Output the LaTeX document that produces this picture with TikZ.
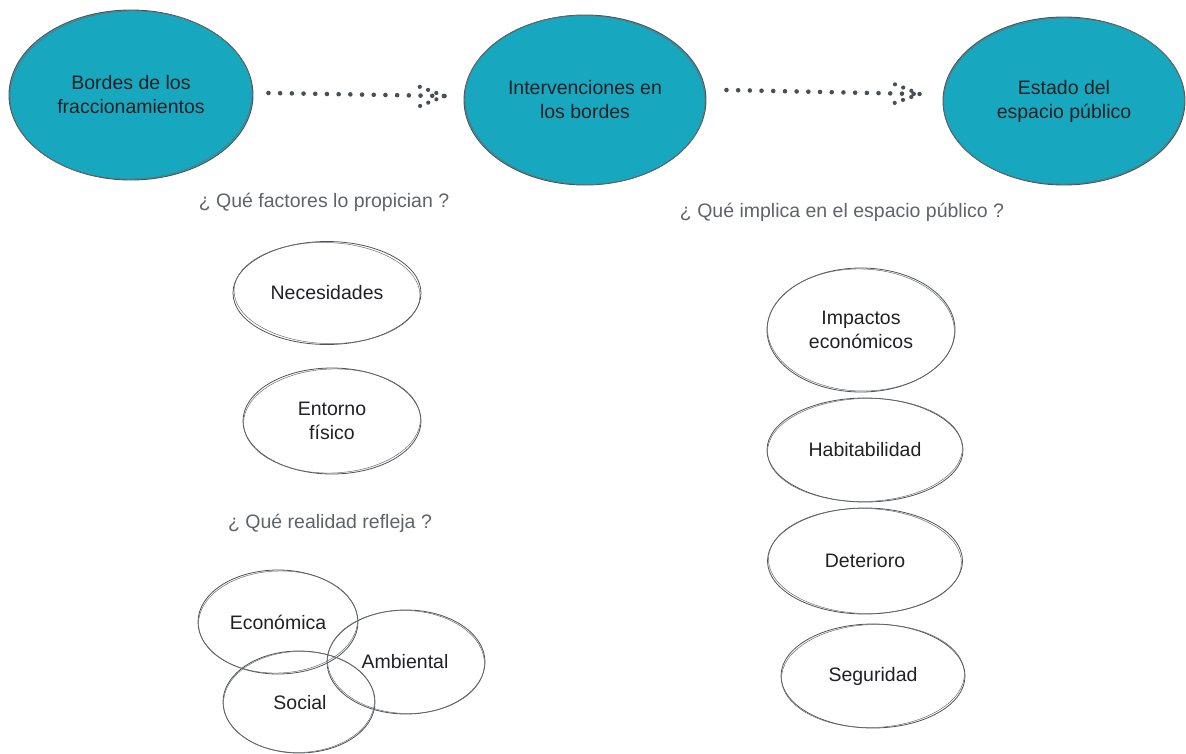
\documentclass[tikz,border=0pt]{standalone}
\usepackage{fontspec}
\setmainfont{Liberation Sans}
\usetikzlibrary{shapes.geometric,calc}
\definecolor{tealfill}{HTML}{17A7BF}
\definecolor{edgec}{HTML}{4F5357}
\definecolor{qgray}{HTML}{5F6368}
\definecolor{ink}{HTML}{202124}
\definecolor{dotc}{HTML}{4A4F55}
\newcommand\skell[4]{\draw[sketchline, rotate around={#4:(#1.center)}] (#1.center) ellipse [x radius=#2, y radius=#3];}
\begin{document}
\begin{tikzpicture}[x=1pt,y=-1pt,
  every node/.style={font=\fontsize{19.5}{24}\selectfont},
  bigell/.style={ellipse, draw=edgec, line width=0.9pt, fill=tealfill, inner sep=0pt, align=center, text=ink},
  smallell/.style={ellipse, draw=edgec, line width=0.8pt, inner sep=0pt, align=center, text=ink},
  question/.style={text=qgray, inner sep=0pt},
  dotline/.style={draw=dotc, line width=4.6pt, line cap=round, dash pattern=on 0pt off 11.7pt},
  headline/.style={draw=dotc, line width=4.2pt, line cap=round, dash pattern=on 0pt off 8.8pt},
  sketchline/.style={draw=edgec!85, line width=0.5pt}
]
\useasboundingbox (0,0) rectangle (1186,753);

% top row
\node[bigell, minimum width=244pt, minimum height=170pt] (b1) at (131,95) {Bordes de los\\fraccionamientos};
\node[bigell, minimum width=242pt, minimum height=170pt] (b2) at (585,100) {Intervenciones en\\los bordes};
\node[bigell, minimum width=242pt, minimum height=168pt] (b3) at (1064,101) {Estado del\\espacio público};
\skell{b1}{121}{84}{1.5}
\skell{b2}{120}{84.5}{-1.5}
\skell{b3}{120.5}{83}{1.2}

% arrows
\coordinate (a1s) at ($(b1.east)+(15,-2)$);
\coordinate (a1t) at ($(b2.west)+(-19,-4)$);
\draw[dotline] (a1s) -- (a1t);
\draw[headline] (a1t) -- ++(-27,-10);
\draw[headline] (a1t) -- ++(-27,11);
\coordinate (a2s) at ($(b2.east)+(20,-10)$);
\coordinate (a2t) at ($(b3.west)+(-23,-7)$);
\draw[dotline] (a2s) -- (a2t);
\draw[headline] (a2t) -- ++(-28,-11);
\draw[headline] (a2t) -- ++(-28,10);

% questions
\node[question] (q1) at (324,202) {¿ Qué factores lo propician ?};
\node[question] (q2) at (842,212) {¿ Qué implica en el espacio público ?};
\node[question] (q3) at (330,523) {¿ Qué realidad refleja ?};

% left column
\node[smallell, minimum width=188pt, minimum height=103pt] (n1) at (327,293) {Necesidades};
\node[smallell, minimum width=178pt, minimum height=106pt] (n2) at (332,421) {Entorno\\físico};
\skell{n1}{93}{50.5}{-2}
\skell{n2}{88.5}{52}{2}

% venn
\node[smallell, minimum width=160pt, minimum height=104pt] (v1) at (278,622) {};
\node[smallell, minimum width=158pt, minimum height=104pt] (v2) at (406,662) {};
\node[smallell, minimum width=152pt, minimum height=102pt] (v3) at (299,702) {};
\skell{v1}{79.5}{51}{2}
\skell{v2}{78.5}{51.5}{-2}
\skell{v3}{75.5}{50.5}{1.5}
\node[text=ink] (t1) at (278,622) {Económica};
\node[text=ink] (t2) at (405,662) {Ambiental};
\node[text=ink] (t3) at (300,703) {Social};

% right column
\node[smallell, minimum width=188pt, minimum height=124pt] (r1) at (861,330) {Impactos\\económicos};
\node[smallell, minimum width=196pt, minimum height=104pt] (r2) at (865,450) {Habitabilidad};
\node[smallell, minimum width=195pt, minimum height=106pt] (r3) at (865,561) {Deterioro};
\node[smallell, minimum width=184pt, minimum height=104pt] (r4) at (873,676) {Seguridad};
\skell{r1}{93.5}{61}{-1.5}
\skell{r2}{97.5}{51.5}{1.5}
\skell{r3}{96.5}{52.5}{-1.5}
\skell{r4}{91.5}{51.5}{2}
\end{tikzpicture}
\end{document}
